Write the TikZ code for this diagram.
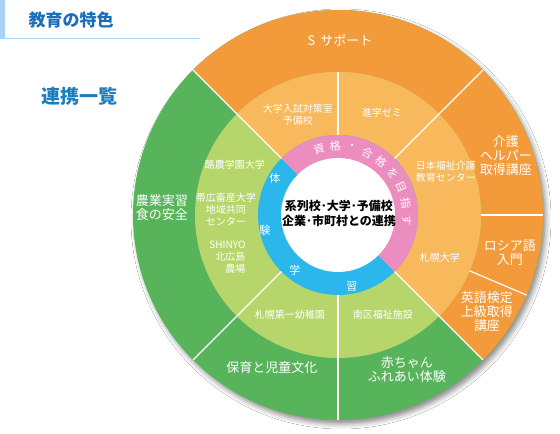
\documentclass[tikz,border=0pt]{standalone}
\usepackage{fontspec}
\setmainfont{Noto Sans CJK JP}
\usepackage{xcolor}
\usepackage{tikz}
\usetikzlibrary{shadows.blur}
\definecolor{deeporange}{HTML}{F39A3A}
\definecolor{paleorange}{HTML}{F8B85C}
\definecolor{deepgreen}{HTML}{58B45B}
\definecolor{palegreen}{HTML}{B6D66C}
\definecolor{ringpink}{HTML}{EC8DC0}
\definecolor{ringblue}{HTML}{2BB7EC}
\definecolor{headblue}{HTML}{1B6FBA}
\definecolor{barblue}{HTML}{A9D0F5}

\begin{document}
\begin{tikzpicture}[x=1pt, y=1pt,
    small/.style={text=white, align=center, font=\fontsize{10}{12}\selectfont},
    big/.style={text=white, align=center, font=\fontsize{13}{14}\selectfont},
    ringtxt/.style={text=white, font=\fontsize{11}{12}\selectfont},
    ttl/.style={font=\bfseries\fontsize{19}{20}\selectfont},
    sep/.style={white, line width=1.2pt}]
    \useasboundingbox (-338,-219) rectangle (222,215);
    \fill[white] (-338,-219) rectangle (222,215);
    \fill[barblue] (-338,215) rectangle (-333,177);
    \draw[barblue, line width=1pt] (-338,176) -- (-138,176);
    \node[anchor=west, text=headblue, font=\bfseries\fontsize{17}{18}\selectfont] (head) at (-313,195) {教育の特色};
    \node[ttl, text=headblue!90!cyan] (ttl) at (-258,119) {連携一覧};
    \fill[deepgreen, blur shadow={shadow xshift=3pt, shadow yshift=-4pt, shadow blur radius=5pt, shadow opacity=45}] (0,0) circle (205);
    \fill[deeporange] (0,0) -- (-45:205) arc[start angle=-45, end angle=135, radius=205] -- cycle;
    \fill[palegreen] (0,0) circle (143);
    \fill[paleorange] (0,0) -- (-45:143) arc[start angle=-45, end angle=135, radius=143] -- cycle;
    \fill[ringblue] (0,0) circle (80);
    \fill[ringpink] (0,0) -- (-45:80) arc[start angle=-45, end angle=135, radius=80] -- cycle;
    \fill[white] (0,0) circle (57);
    \foreach \a in {45,135,225,270,315}
        \draw[sep] (\a:80) -- (\a:205);
    \draw[sep] (90:80) -- (90:143);
    \foreach \a in {0,-23}
        \draw[sep] (\a:143) -- (\a:205);
    \node[font=\bfseries\fontsize{12}{15}\selectfont, align=center] (hub) at (1,1.5) {系列校･大学･予備校\\企業･市町村との連携};
    \foreach \c [count=\i from 0] in {資,格,・,合,格,を,目,指,す}{
        \pgfmathsetmacro\ang{106-\i*13.75}
        \node[ringtxt, rotate=\ang-90] (pk\i) at (\ang:69) {\c};
    }
    \node[ringtxt] (bl1) at (-63,37) {体};
    \node[ringtxt] (bl2) at (-73,-15) {験};
    \node[ringtxt] (bl3) at (-43,-55) {学};
    \node[ringtxt] (bl4) at (14,-72) {習};
    \node[big] (ssup) at (2,175) {S\hspace{0.4em}サポート};
    \node[small] (yobi) at (-40,100) {大学入試対策室\\予備校};
    \node[small] (zemi) at (44,102) {進学ゼミ};
    \node[small] (fukushi) at (108,43) {日本福祉介護\\教育センター};
    \node[small] (sapdai) at (102,-43) {札幌大学};
    \node[small] (minami) at (45,-100) {南区福祉施設};
    \node[small] (yochi) at (-48,-100) {札幌第一幼稚園};
    \node[small] (rakuno) at (-103,50) {酪農学園大学};
    \node[small] (obi) at (-112,6) {帯広畜産大学\\地域共同\\センター};
    \node[small, align=right, anchor=east] (shinyo) at (-89,-42.5) {SHINYO\\北広島\\農場};
    \node[big] (kaigo) at (168,59) {介護\\ヘルパー\\取得講座};
    \node[big] (rosia) at (172,-38) {ロシア語\\入門};
    \node[big] (eigo) at (149,-97) {英語検定\\上級取得\\講座};
    \node[big] (aka) at (69,-155) {赤ちゃん\\ふれあい体験};
    \node[big] (hoiku) at (-66,-153) {保育と児童文化};
    \node[big] (nogyo) at (-176,7) {農業実習\\食の安全};
\end{tikzpicture}
\end{document}
